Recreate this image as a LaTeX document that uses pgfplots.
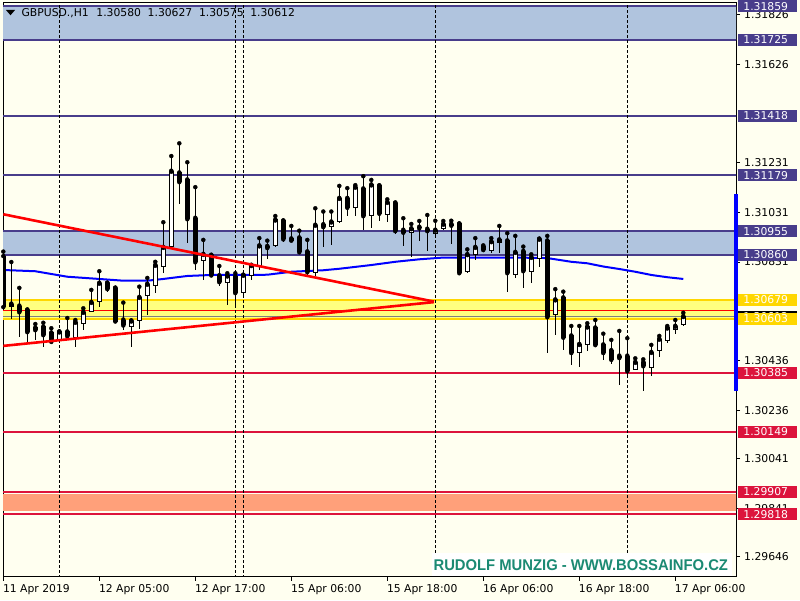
\documentclass[border=0pt]{standalone}
\usepackage{fontspec}
\setmainfont{DejaVu Sans}
\newfontfamily\wmfont{Liberation Sans}
\usepackage{pgfplots}
\usepackage{pgfplotstable}
\pgfplotsset{compat=1.18}

\definecolor{bg}{HTML}{FFFFF0}
\definecolor{zoneblue}{HTML}{B0C4DE}
\definecolor{slate}{HTML}{483D8B}
\definecolor{crim}{HTML}{DC143C}
\definecolor{gold}{HTML}{FFD700}
\definecolor{lyellow}{HTML}{FFFF80}
\definecolor{salmon}{HTML}{FFA07A}
\definecolor{wm}{HTML}{1B8A73}

% H1 candles, bar index from 11 Apr 17:00
\pgfplotstableread{
i o h l c
0 1.30853 1.30873 1.30640 1.30652
1 1.30652 1.30831 1.30603 1.30662
2 1.30654 1.30727 1.30531 1.30631
3 1.30638 1.30640 1.30504 1.30551
4 1.30566 1.30582 1.30518 1.30559
5 1.30570 1.30587 1.30491 1.30539
6 1.30546 1.30565 1.30510 1.30512
7 1.30521 1.30552 1.30518 1.30550
8 1.30550 1.30606 1.30531 1.30534
9 1.30529 1.30598 1.30488 1.30589
10 1.30585 1.30645 1.30558 1.30629
11 1.30633 1.30719 1.30632 1.30669
12 1.30673 1.30794 1.30652 1.30746
13 1.30746 1.30748 1.30711 1.30724
14 1.30726 1.30728 1.30591 1.30594
15 1.30598 1.30668 1.30558 1.30578
16 1.30571 1.30596 1.30491 1.30594
17 1.30595 1.30732 1.30561 1.30689
18 1.30696 1.30767 1.30618 1.30742
19 1.30738 1.30832 1.30705 1.30818
20 1.30812 1.30991 1.30788 1.30890
21 1.30893 1.31257 1.30890 1.31196
22 1.31189 1.31308 1.31064 1.31154
23 1.31161 1.31232 1.30906 1.31005
24 1.31007 1.31132 1.30799 1.30832
25 1.30836 1.30920 1.30759 1.30862
26 1.30858 1.30860 1.30777 1.30779
27 1.30776 1.30815 1.30736 1.30752
28 1.30749 1.30786 1.30658 1.30775
29 1.30772 1.30786 1.30658 1.30708
30 1.30708 1.30780 1.30700 1.30778
31 1.30778 1.30820 1.30759 1.30817
32 1.30816 1.30927 1.30799 1.30896
33 1.30894 1.30917 1.30842 1.30889
34 1.30896 1.31016 1.30893 1.31000
35 1.30996 1.30998 1.30913 1.30924
36 1.30924 1.30976 1.30917 1.30919
37 1.30928 1.30957 1.30866 1.30872
38 1.30872 1.30920 1.30775 1.30792
39 1.30790 1.31047 1.30775 1.30979
40 1.30981 1.31034 1.30890 1.30973
41 1.30973 1.31034 1.30901 1.30992
42 1.30993 1.31137 1.30987 1.31087
43 1.31087 1.31128 1.31016 1.31051
44 1.31051 1.31140 1.31016 1.31132
45 1.31125 1.31176 1.30960 1.31017
46 1.31019 1.31161 1.30967 1.31141
47 1.31137 1.31139 1.30997 1.31027
48 1.31023 1.31083 1.30991 1.31071
49 1.31068 1.31070 1.30944 1.30957
50 1.30959 1.31007 1.30896 1.30951
51 1.30951 1.30984 1.30850 1.30965
52 1.30971 1.30996 1.30915 1.30968
53 1.30963 1.31020 1.30877 1.30957
54 1.30947 1.30997 1.30927 1.30959
55 1.30967 1.30996 1.30960 1.30983
56 1.30983 1.30997 1.30904 1.30979
57 1.30984 1.30986 1.30779 1.30788
58 1.30792 1.30882 1.30786 1.30861
59 1.30863 1.30927 1.30839 1.30890
60 1.30892 1.30898 1.30873 1.30881
61 1.30877 1.30927 1.30866 1.30913
62 1.30909 1.30976 1.30866 1.30920
63 1.30916 1.30947 1.30712 1.30788
64 1.30782 1.30936 1.30768 1.30870
65 1.30874 1.30893 1.30728 1.30796
66 1.30792 1.30862 1.30748 1.30850
67 1.30846 1.30925 1.30810 1.30923
68 1.30916 1.30936 1.30467 1.30611
69 1.30621 1.30722 1.30538 1.30679
70 1.30687 1.30712 1.30478 1.30529
71 1.30534 1.30574 1.30417 1.30467
72 1.30467 1.30574 1.30410 1.30500
73 1.30499 1.30585 1.30475 1.30570
74 1.30566 1.30598 1.30494 1.30499
75 1.30498 1.30543 1.30437 1.30467
76 1.30475 1.30518 1.30421 1.30440
77 1.30453 1.30554 1.30337 1.30447
78 1.30453 1.30525 1.30370 1.30394
79 1.30400 1.30444 1.30397 1.30428
80 1.30428 1.30440 1.30314 1.30414
81 1.30408 1.30498 1.30374 1.30468
82 1.30476 1.30534 1.30451 1.30521
83 1.30515 1.30574 1.30507 1.30566
84 1.30561 1.30598 1.30542 1.30573
85 1.30580 1.30627 1.30575 1.30612
}\candles

% moving average
\pgfplotstableread{
i ma
0 1.30799
4 1.30794
8 1.30772
12 1.30763
15 1.30756
18 1.30756
20 1.30763
23 1.30775
26 1.30779
30 1.30779
33 1.30780
36 1.30792
40 1.30798
42 1.30804
46 1.30819
49 1.30832
52 1.30842
55 1.30849
60 1.30849
64 1.30849
68 1.30847
69 1.30842
71 1.30832
73 1.30826
75 1.30813
77 1.30803
79 1.30792
81 1.30779
83 1.30770
85 1.30763
}\maline

\tikzset{pbox/.style={anchor=west, xshift=1.7pt, inner xsep=5.5pt, inner ysep=0pt,
  text width=48pt, align=left, minimum height=12pt, text height=7.9pt, text depth=0pt, text=white}}

\begin{document}
\begin{tikzpicture}[x=1pt,y=1pt,font=\fontsize{10.8}{13}\selectfont]
\fill[bg] (0,0) rectangle (800,600);
\begin{axis}[
  at={(3pt,23.3pt)}, anchor=south west,
  width=733pt, height=574pt, scale only axis,
  xmin=-0.04, xmax=91.59, ymin=1.295664, ymax=1.318733,
  clip mode=individual,
  axis line style={black, line width=1pt},
  tick style={black, line width=1pt},
  tick align=outside, major tick length=4pt,
  xtick pos=left, ytick pos=right, yticklabel pos=right,
  xtick={0,12,24,36,48,60,72,84},
  xticklabels={11 Apr 2019,12 Apr 05:00,12 Apr 17:00,15 Apr 06:00,15 Apr 18:00,16 Apr 06:00,16 Apr 18:00,17 Apr 06:00},
  xticklabel style={anchor=north west, inner sep=0pt, xshift=-0.5pt, yshift=-3.5pt},
  ytick={1.31826,1.31626,1.31231,1.31031,1.30831,1.30436,1.30236,1.30041,1.29841,1.29646},
  yticklabels={1.31826,1.31626,1.31231,1.31031,1.30831,1.30436,1.30236,1.30041,1.29841,1.29646},
  yticklabel style={anchor=west, inner sep=0pt, xshift=4pt},
  scaled y ticks=false, scaled x ticks=false,
]
% zones
\addplot[draw=none, fill=zoneblue] coordinates {(-1,1.31725) (93,1.31725) (93,1.31859) (-1,1.31859)} -- cycle;
\addplot[draw=none, fill=zoneblue] coordinates {(-1,1.30860) (93,1.30860) (93,1.30955) (-1,1.30955)} -- cycle;
\addplot[draw=none, fill=lyellow] coordinates {(-1,1.30603) (93,1.30603) (93,1.30679) (-1,1.30679)} -- cycle;
\addplot[draw=none, fill=salmon] coordinates {(-1,1.29831) (93,1.29831) (93,1.29899) (-1,1.29899)} -- cycle;
% horizontal levels
\addplot[slate, line width=2pt] coordinates {(-1,1.31859) (93,1.31859)};
\addplot[slate, line width=2pt] coordinates {(-1,1.31725) (93,1.31725)};
\addplot[slate, line width=2pt] coordinates {(-1,1.31418) (93,1.31418)};
\addplot[slate, line width=2pt] coordinates {(-1,1.31179) (93,1.31179)};
\addplot[slate, line width=2pt] coordinates {(-1,1.30955) (93,1.30955)};
\addplot[slate, line width=2pt] coordinates {(-1,1.30860) (93,1.30860)};
\addplot[gold, line width=2pt] coordinates {(-1,1.30679) (93,1.30679)};
\addplot[gold, line width=2pt] coordinates {(-1,1.30603) (93,1.30603)};
\addplot[crim, line width=2pt] coordinates {(-1,1.30385) (93,1.30385)};
\addplot[crim, line width=2pt] coordinates {(-1,1.30149) (93,1.30149)};
\addplot[crim, line width=2pt] coordinates {(-1,1.29907) (93,1.29907)};
\addplot[crim, line width=2pt] coordinates {(-1,1.29818) (93,1.29818)};
% ask / bid
\addplot[red, line width=1pt] coordinates {(-1,1.30637) (93,1.30637)};
\addplot[gray, line width=1pt] coordinates {(-1,1.30612) (93,1.30612)};
% day separators
\addplot[black, line width=1pt, dash pattern=on 3pt off 2pt, unbounded coords=jump] coordinates {
  (7,1.29) (7,1.32) (7,nan) (29,1.29) (29,1.32) (29,nan) (30,1.29) (30,1.32) (30,nan)
  (54,1.29) (54,1.32) (54,nan) (78,1.29) (78,1.32)};
% moving average
\addplot[blue, line width=2pt] table[x=i, y=ma] {\maline};
% wicks
\addplot[only marks, mark=none, error bars/.cd, y dir=minus, y explicit, error mark=none,
  error bar style={black, line width=1pt}]
  table[x=i, y=h, y error minus expr={\thisrow{h}-\thisrow{l}}] {\candles};
% bodies
\addplot[only marks, mark=none, error bars/.cd, y dir=minus, y explicit, error mark=none,
  error bar style={black, line width=5pt}]
  table[x=i, y expr={max(\thisrow{o},\thisrow{c})+0.00002}, y error minus expr={abs(\thisrow{o}-\thisrow{c})+0.00004}] {\candles};
\addplot[only marks, mark=none, error bars/.cd, y dir=minus, y explicit, error mark=none,
  error bar style={white, line width=3pt}]
  table[x=i, y expr={\thisrow{c}-0.00002}, y error minus expr={max(\thisrow{c}-\thisrow{o}-0.00004,0)}] {\candles};
% trend lines
\addplot[red, line width=2.6pt] coordinates {(0,1.31023) (53.84,1.30672)};
\addplot[red, line width=2.6pt] coordinates {(0,1.30494) (53.84,1.30670)};
% anchors for the price scale labels
\coordinate (vt) at (axis cs:91.59,1.311034);
\coordinate (vb) at (axis cs:91.59,1.303127);
\coordinate (p1) at (axis cs:91.59,1.31859);
\coordinate (p2) at (axis cs:91.59,1.31725);
\coordinate (p3) at (axis cs:91.59,1.31418);
\coordinate (p4) at (axis cs:91.59,1.31179);
\coordinate (p5) at (axis cs:91.59,1.30955);
\coordinate (p6) at (axis cs:91.59,1.30860);
\coordinate (pb) at (axis cs:91.59,1.30612);
\coordinate (p7) at (axis cs:91.59,1.30679);
\coordinate (p8) at (axis cs:91.59,1.30603);
\coordinate (p9) at (axis cs:91.59,1.30385);
\coordinate (p10) at (axis cs:91.59,1.30149);
\coordinate (p11) at (axis cs:91.59,1.29907);
\coordinate (p12) at (axis cs:91.59,1.29818);
\end{axis}
% right edge marker and price labels
\draw[blue, line width=3.4pt] (vt) -- (vb);
\node[pbox, fill=slate] at (p1) {1.31859};
\node[pbox, fill=slate] at (p2) {1.31725};
\node[pbox, fill=slate] at (p3) {1.31418};
\node[pbox, fill=slate] at (p4) {1.31179};
\node[pbox, fill=slate] at (p5) {1.30955};
\node[pbox, fill=slate] at (p6) {1.30860};
\node[pbox, fill=black] at (pb) {1.30612};
\node[pbox, fill=gold] at (p7) {1.30679};
\node[pbox, fill=gold] at (p8) {1.30603};
\node[pbox, fill=crim] at (p9) {1.30385};
\node[pbox, fill=crim] at (p10) {1.30149};
\node[pbox, fill=crim] at (p11) {1.29907};
\node[pbox, fill=crim] at (p12) {1.29818};
% watermark
\fill[white] (431.7,23.8) rectangle (731.7,46.7);
\node[font=\wmfont\bfseries\fontsize{15.5}{16}\selectfont, text=wm, xscale=0.955, inner sep=0pt]
  at (580.8,35.3) {RUDOLF MUNZIG - WWW.BOSSAINFO.CZ};
% title
\fill[black] (6,590) -- (15,590) -- (10.5,584.7) -- cycle;
\node[anchor=base west, inner sep=0pt] at (21.4,583.3) {GBPUSD.,H1};
\node[anchor=base west, inner sep=0pt] at (96.2,583.3) {1.30580};
\node[anchor=base west, inner sep=0pt] at (147.5,583.3) {1.30627};
\node[anchor=base west, inner sep=0pt] at (198.8,583.3) {1.30575};
\node[anchor=base west, inner sep=0pt] at (250.1,583.3) {1.30612};
\end{tikzpicture}
\end{document}
